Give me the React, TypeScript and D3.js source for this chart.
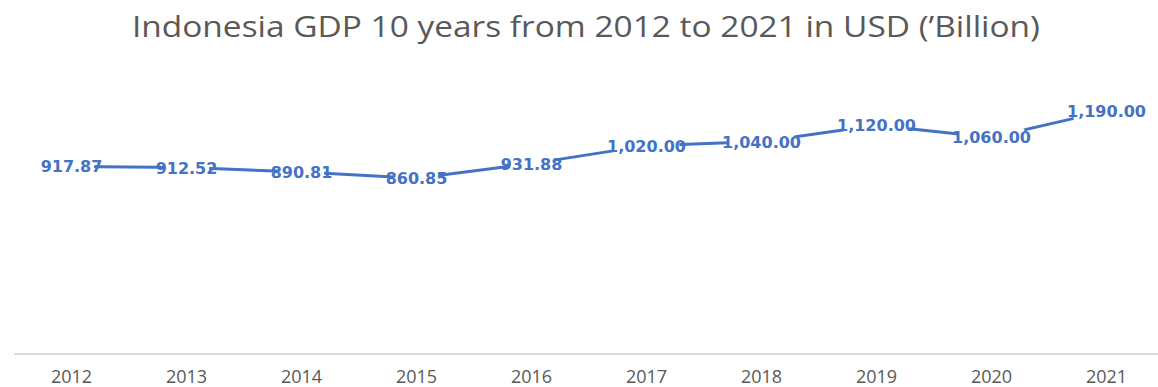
import React from "react";
import * as d3 from "d3";

const years = ["2012", "2013", "2014", "2015", "2016", "2017", "2018", "2019", "2020", "2021"];
const gdp = [917.87, 912.52, 890.81, 860.85, 931.88, 1020.0, 1040.0, 1120.0, 1060.0, 1190.0];
const titleText = "Indonesia GDP 10 years from 2012 to 2021 in USD (\u2019Billion)";

const W = 1158;
const H = 387;

export default function App() {
  const x = d3.scaleBand<string>().domain(years).range([14, 1164]);
  const y = d3.scaleLinear().domain([0, 1400]).range([354, 68]);
  const line = d3
    .line<number>()
    .x((_, i) => (x(years[i]) as number) + x.bandwidth() / 2)
    .y((d) => y(d));
  const fmt = d3.format(",.2f");
  const labelFont = "'DejaVu Sans', Verdana, sans-serif";
  return (
    <svg width={W} height={H} style={{ position: "absolute", left: 0, top: 0, background: "#fff" }}>
      <rect width={W} height={H} fill="#fff" />
      <g transform="translate(0,37) scale(1,1.15)">
        <text
          x={586}
          y={0}
          textAnchor="middle"
          fill="#595959"
          fontFamily="'Open Sans', sans-serif"
          fontSize={26}
          textLength={908}
          lengthAdjust="spacingAndGlyphs"
        >
          {titleText}
        </text>
      </g>
      <line x1={14} x2={1158} y1={354} y2={354} stroke="#d9d9d9" strokeWidth={2} />
      {years.map((yr) => (
        <text
          key={yr}
          x={(x(yr) as number) + x.bandwidth() / 2}
          y={383}
          textAnchor="middle"
          fill="#595959"
          fontFamily="'Liberation Sans Narrow', 'Open Sans', sans-serif"
          fontSize={18}
        >
          {yr}
        </text>
      ))}
      <path d={line(gdp) || ""} fill="none" stroke="#4472C4" strokeWidth={3} strokeLinejoin="round" strokeLinecap="round" />
      {gdp.map((v, i) => {
        const cx = (x(years[i]) as number) + x.bandwidth() / 2;
        const cy = y(v);
        const label = fmt(v);
        const tw = label.length * 10.2;
        return (
          <g key={years[i]}>
            <rect x={cx - tw / 2 + 8} y={cy - 9} width={tw - 16} height={18} fill="#fff" />
            <text
              x={cx}
              y={cy + 6}
              textAnchor="middle"
              fill="#4472C4"
              fontFamily={labelFont}
              fontWeight="bold"
              fontSize={16}
            >
              {label}
            </text>
          </g>
        );
      })}
    </svg>
  );
}
